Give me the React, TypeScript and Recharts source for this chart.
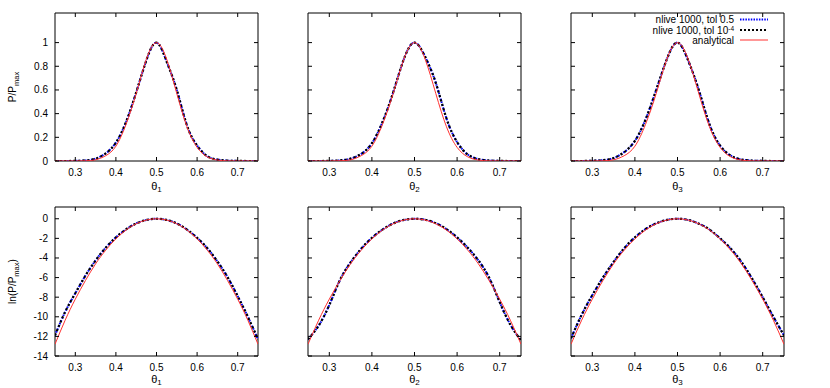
import { LineChart, Line, XAxis, YAxis, ReferenceArea, Legend } from 'recharts'

// theta grid (read every 0.025)
const theta = [0.25, 0.275, 0.3, 0.325, 0.35, 0.375, 0.4, 0.425, 0.45, 0.475, 0.5, 0.525, 0.55, 0.575, 0.6, 0.625, 0.65, 0.675, 0.7, 0.725, 0.75]

// P/Pmax, nested sampling (both tolerances overlap in the plot)
const pTheta1 = [0, 0, 0.001, 0.005, 0.02, 0.065, 0.155, 0.33, 0.58, 0.85, 1.0, 0.84, 0.6, 0.3, 0.13, 0.04, 0.012, 0.003, 0.001, 0, 0]
const pTheta2 = [0, 0, 0.001, 0.005, 0.02, 0.06, 0.15, 0.33, 0.58, 0.86, 1.0, 0.88, 0.66, 0.36, 0.16, 0.055, 0.016, 0.004, 0.001, 0, 0]
const pTheta3 = [0, 0, 0.002, 0.007, 0.025, 0.075, 0.17, 0.35, 0.6, 0.86, 1.0, 0.85, 0.6, 0.31, 0.13, 0.045, 0.013, 0.003, 0.001, 0, 0]
const pAnalytic = [0, 0, 0, 0.002, 0.01, 0.045, 0.125, 0.31, 0.57, 0.86, 1.0, 0.86, 0.57, 0.29, 0.115, 0.035, 0.008, 0.001, 0, 0, 0]

// ln(P/Pmax)
const lnTheta1 = [-11.9, -9.5, -7.6, -5.8, -4.25, -2.95, -1.9, -1.08, -0.48, -0.12, 0, -0.12, -0.48, -1.1, -1.95, -3.0, -4.35, -5.95, -7.9, -10.0, -12.3]
const lnTheta2 = [-12.3, -10.9, -8.8, -6.25, -4.45, -3.05, -1.95, -1.1, -0.48, -0.12, 0, -0.1, -0.45, -1.05, -1.9, -2.95, -4.25, -6.0, -8.5, -10.8, -12.4]
const lnTheta3 = [-12.2, -9.8, -7.8, -6.0, -4.4, -3.0, -1.9, -1.05, -0.47, -0.12, 0, -0.12, -0.5, -1.1, -2.0, -3.05, -4.4, -6.1, -8.0, -10.0, -11.9]
const lnAnalytic = [-12.8, -10.35, -8.2, -6.3, -4.6, -3.2, -2.05, -1.15, -0.51, -0.13, 0, -0.13, -0.51, -1.15, -2.05, -3.2, -4.6, -6.3, -8.2, -10.35, -12.8]

const xTicks = [0.3, 0.4, 0.5, 0.6, 0.7]
const pTicks = [0, 0.2, 0.4, 0.6, 0.8, 1]
const lnTicks = [-14, -12, -10, -8, -6, -4, -2, 0]

const FONT = '"Liberation Sans", Arial, Helvetica, sans-serif'
const MT = 2
const MR = 2
const XH = 37

const rows = (sampled: number[], analytic: number[]) =>
  theta.map((t, i) => ({ theta: t, tolLoose: sampled[i], tolTight: sampled[i], analytic: analytic[i] }))

const makeXTick = (plotH: number) => (props: any) => {
  const { x, y, payload } = props
  return (
    <g>
      <line x1={x} y1={y} x2={x} y2={y - 4} stroke="#000" />
      <line x1={x} y1={y - plotH} x2={x} y2={y - plotH + 4} stroke="#000" />
      <text x={x} y={y + 15} textAnchor="middle" fontSize={10} fontFamily={FONT} fill="#000">{payload.value}</text>
    </g>
  )
}

const makeYTick = (plotW: number, showLabel: boolean) => (props: any) => {
  const { x, y, payload } = props
  return (
    <g>
      <line x1={x} y1={y} x2={x + 4} y2={y} stroke="#000" />
      <line x1={x + plotW} y1={y} x2={x + plotW - 4} y2={y} stroke="#000" />
      {showLabel && (
        <text x={x - 7} y={y + 3.5} textAnchor="end" fontSize={10} fontFamily={FONT} fill="#000">{payload.value}</text>
      )}
    </g>
  )
}

function ThetaLabel({ viewBox, sub, drop }: any) {
  const { x, y, width } = viewBox
  return (
    <text x={x + width / 2} y={y + drop} textAnchor="middle" fontSize={11} fontFamily={FONT} fill="#000">
      θ<tspan dy={2.5} fontSize={8}>{sub}</tspan>
    </text>
  )
}

function YLabel({ viewBox, log }: any) {
  const cx = 16
  const cy = viewBox.y + viewBox.height / 2
  return (
    <text x={cx} y={cy} transform={`rotate(-90 ${cx} ${cy})`} textAnchor="middle" fontSize={10} fontFamily={FONT} fill="#000">
      {log ? 'ln(P/P' : 'P/P'}
      <tspan dy={2.5} fontSize={7.5}>max</tspan>
      {log && <tspan dy={-2.5}>)</tspan>}
    </text>
  )
}

function LegendBox() {
  const textRight = 173
  const lineX1 = 179
  const lineX2 = 207
  return (
    <svg width={230} height={42} style={{ overflow: 'visible' }}>
      <g fontSize={10} fontFamily={FONT} fill="#000" textAnchor="end">
        <text x={textRight} y={11.5}>nlive 1000, tol 0.5</text>
        <text x={textRight} y={22.5}>
          nlive 1000, tol 10<tspan dy={-2.5} fontSize={6.5}>-4</tspan>
        </text>
        <text x={textRight} y={32.5}>analytical</text>
      </g>
      <line x1={lineX1} y1={8.5} x2={lineX2} y2={8.5} stroke="#0000ff" strokeWidth={2} strokeDasharray="1.5 1.2" />
      <line x1={lineX1} y1={19} x2={lineX2} y2={19} stroke="#000" strokeWidth={2} strokeDasharray="2 2" />
      <line x1={lineX1} y1={29} x2={lineX2} y2={29} stroke="#ff3030" strokeWidth={1} />
    </svg>
  )
}

const panels = [
  { log: false, plotLeft: 55, yw: 55, plotW: 203, sampled: pTheta1, analytic: pAnalytic, sub: '1' },
  { log: false, plotLeft: 308, yw: 10, plotW: 213, sampled: pTheta2, analytic: pAnalytic, sub: '2' },
  { log: false, plotLeft: 571, yw: 10, plotW: 213, sampled: pTheta3, analytic: pAnalytic, sub: '3', legend: true },
  { log: true, plotLeft: 55, yw: 55, plotW: 203, sampled: lnTheta1, analytic: lnAnalytic, sub: '1' },
  { log: true, plotLeft: 308, yw: 10, plotW: 213, sampled: lnTheta2, analytic: lnAnalytic, sub: '2' },
  { log: true, plotLeft: 571, yw: 10, plotW: 213, sampled: lnTheta3, analytic: lnAnalytic, sub: '3' },
]

function Panel({ p }: { p: (typeof panels)[number] & { legend?: boolean } }) {
  const plotTop = p.log ? 207 : 13
  const plotH = p.log ? 149 : 148
  const yDomain = p.log ? [-14, 1.2] : [0, 1.25]
  const first = p.yw > 20
  const width = p.yw + p.plotW + MR
  const height = MT + plotH + XH
  return (
    <div style={{ position: 'absolute', left: p.plotLeft - p.yw, top: plotTop - MT }}>
      <LineChart width={width} height={height} data={rows(p.sampled, p.analytic)} margin={{ top: MT, right: MR, bottom: 0, left: 0 }}>
        <XAxis
          type="number"
          dataKey="theta"
          domain={[0.25, 0.75]}
          ticks={xTicks}
          interval={0}
          allowDataOverflow
          height={XH}
          axisLine={false}
          tickLine={false}
          tickSize={0}
          tickMargin={0}
          tick={makeXTick(plotH)}
          label={<ThetaLabel sub={p.sub} drop={p.log ? 26.5 : 28.5} />}
        />
        <YAxis
          type="number"
          domain={yDomain}
          ticks={p.log ? lnTicks : pTicks}
          interval={0}
          allowDataOverflow
          width={p.yw}
          axisLine={false}
          tickLine={false}
          tickSize={0}
          tickMargin={0}
          tick={makeYTick(p.plotW, first)}
          label={first ? <YLabel log={p.log} /> : undefined}
        />
        <ReferenceArea x1={0.25} x2={0.75} y1={yDomain[0]} y2={yDomain[1]} fill="none" fillOpacity={0} stroke="#000" strokeWidth={1} />
        <Line type="natural" dataKey="tolLoose" stroke="#0000ff" strokeWidth={2} strokeDasharray="1.5 1.5" dot={false} isAnimationActive={false} />
        <Line type="natural" dataKey="tolTight" stroke="#000" strokeWidth={2.2} strokeDasharray="2.2 2.4" dot={false} isAnimationActive={false} />
        <Line type="natural" dataKey="analytic" stroke="#ff3030" strokeWidth={1} dot={false} isAnimationActive={false} />
        {p.legend && (
          <Legend
            layout="horizontal"
            verticalAlign="middle"
            align="center"
            content={() => <LegendBox />}
            wrapperStyle={{ left: 0, top: 0, width: 230, height: 42 }}
          />
        )}
      </LineChart>
    </div>
  )
}

export default function App() {
  return (
    <div style={{ position: 'absolute', left: 0, top: 0, width: 830, height: 388, overflow: 'hidden', background: '#fff', fontFamily: FONT }}>
      {panels.map((p, i) => (
        <Panel key={i} p={p} />
      ))}
    </div>
  )
}
